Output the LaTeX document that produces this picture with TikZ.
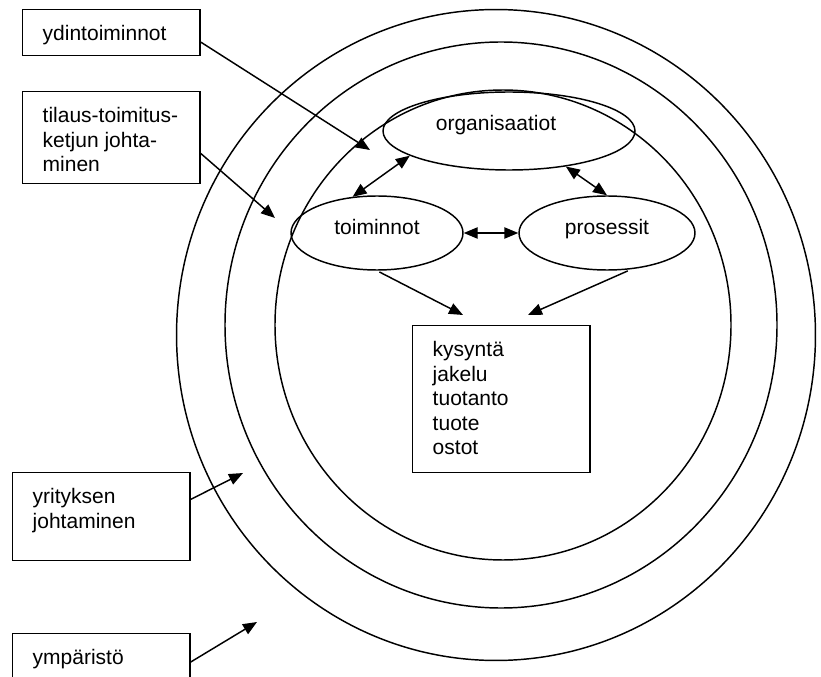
\documentclass[tikz,border=0pt]{standalone}
\usepackage{fontspec}
\setmainfont{Liberation Sans}
\usetikzlibrary{shapes.geometric,arrows.meta}
\newcommand{\boxtext}[2]{\parbox[c][#1][t]{133pt}{\vspace*{10.4pt}\leftskip=15pt\strut #2}}

\begin{document}
\begin{tikzpicture}[x=0.75pt,y=-0.75pt,line width=1.1pt,
  font=\fontsize{15.75}{18.4}\selectfont,
  textbox/.style={draw,rectangle,inner sep=0pt,anchor=north west},
  oval/.style={draw,ellipse,inner sep=0pt,minimum height=55.5pt,text height=11.4pt,text depth=8.4pt},
  arr/.style={-{Triangle[length=10.5pt,width=8.5pt]}},
  twoarr/.style={{Triangle[length=10.5pt,width=8.5pt]}-{Triangle[length=10.5pt,width=8.5pt]}}]
\clip (0,0) rectangle (821,677);
\draw (496,335) ellipse [x radius=239.6pt, y radius=244.1pt];
\draw (501,325) ellipse [x radius=207pt, y radius=212.25pt];
\draw (503,325) ellipse [x radius=171pt, y radius=176.25pt];
\node[oval,minimum width=189pt,minimum height=58.5pt,text depth=11.4pt] (org) at (509,131) {organisaatiot\hspace*{19.5pt}};
\node[oval,minimum width=129pt] (toi) at (377,233) {toiminnot};
\node[oval,minimum width=132pt] (pro) at (607,233) {prosessit};
\node[textbox] (kys) at (412,325) {\boxtext{110.25pt}{kysyntä\\jakelu\\tuotanto\\tuote\\ostot}};
\node[textbox] (ydin) at (22,9) {\boxtext{34.5pt}{ydintoiminnot}};
\node[textbox] (tilaus) at (22,91) {\boxtext{69pt}{tilaus-toimitus-\\ketjun johta-\\minen}};
\node[textbox] (yritys) at (12,472) {\boxtext{66pt}{yrityksen\\johtaminen}};
\node[textbox] (ympar) at (12,633) {\boxtext{66pt}{ympäristö}};
\coordinate (ydinTip) at (370,150);
\coordinate (tilausTip) at (275,218);
\coordinate (yritysTip) at (243,473);
\coordinate (ymparTip) at (257,622);
\coordinate (toiTip) at (463,315);
\coordinate (proTip) at (528,315);
\draw[arr] (ydin.-6) -- (ydinTip);
\draw[arr] (tilaus.-10) -- (tilausTip);
\draw[arr] (yritys.11) -- (yritysTip);
\draw[arr] (ympar.10) -- (ymparTip);
\draw[twoarr] (toi.124) -- (org.194);
\draw[twoarr] (org.-32) -- (pro.north);
\draw[twoarr] (toi.east) -- (pro.west);
\draw[arr,shorten <=2pt] (toi.south) -- (toiTip);
\draw[arr,shorten <=3pt] (pro.-56) -- (proTip);
\end{tikzpicture}
\end{document}
